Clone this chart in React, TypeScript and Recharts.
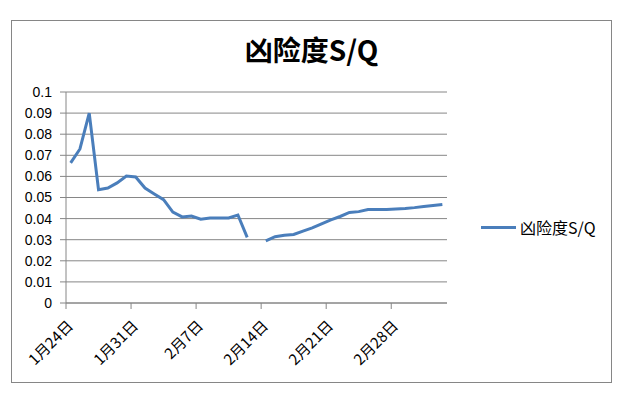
import React from 'react'
import { LineChart, Line, XAxis, YAxis, CartesianGrid } from 'recharts'

// one label per day, 1/24 .. 3/4 (2020, leap year)
const dayLabels = [
  '1月24日', '1月25日', '1月26日', '1月27日', '1月28日', '1月29日', '1月30日', '1月31日',
  '2月1日', '2月2日', '2月3日', '2月4日', '2月5日', '2月6日', '2月7日', '2月8日',
  '2月9日', '2月10日', '2月11日', '2月12日', '2月13日', '2月14日', '2月15日', '2月16日',
  '2月17日', '2月18日', '2月19日', '2月20日', '2月21日', '2月22日', '2月23日', '2月24日',
  '2月25日', '2月26日', '2月27日', '2月28日', '2月29日', '3月1日', '3月2日', '3月3日', '3月4日'
]

const sqValues: (number | null)[] = [
  0.0664, 0.073, 0.09, 0.0537, 0.0545, 0.0569, 0.0602, 0.0597,
  0.0545, 0.0517, 0.049, 0.0431, 0.0408, 0.0412, 0.0397, 0.0403,
  0.0403, 0.0403, 0.0417, 0.0311, null, 0.0294, 0.0314, 0.0321,
  0.0325, 0.0341, 0.0356, 0.0375, 0.0394, 0.041, 0.0429, 0.0433,
  0.0443, 0.0443, 0.0443, 0.0446, 0.0448, 0.0452, 0.0457, 0.0462, 0.0467
]

const yTicks = [0, 0.01, 0.02, 0.03, 0.04, 0.05, 0.06, 0.07, 0.08, 0.09, 0.1]
const xTicks = [0, 7, 14, 21, 28, 35]

const seriesName = '凶险度S/Q'
const lineColor = '#4A7EBB'
const axisColor = '#868686'
const numFont = "'Liberation Sans', 'Noto Sans CJK SC', sans-serif"
const cjkFont = "'Noto Sans CJK SC', 'Liberation Sans', sans-serif"

// x is the day slot, points sit in the middle of their slot like Excel's date axis
const data = sqValues.map((v, i) => ({ x: i + 0.5, label: dayLabels[i], sq: v }))

function DateTick(props: any) {
  const { x, y, payload } = props
  const text = dayLabels[payload.value] ?? ''
  const tx = x + 8
  const ty = y + 16
  return (
    <text
      x={tx}
      y={ty}
      textAnchor="end"
      fontSize={15}
      fontFamily={cjkFont}
      fill="#000"
      transform={`rotate(-45, ${tx}, ${ty})`}
    >
      {text}
    </text>
  )
}

export default function App() {
  return (
    <div style={{ position: 'absolute', left: 0, top: 0, width: 638, height: 400, background: '#fff' }}>
      <div
        style={{
          position: 'absolute',
          left: 11,
          top: 20,
          width: 601,
          height: 363,
          boxSizing: 'border-box',
          border: `1px solid ${axisColor}`
        }}
      />
      <div
        style={{
          position: 'absolute',
          left: 11,
          width: 601,
          top: 31,
          textAlign: 'center',
          fontFamily: cjkFont,
          fontWeight: 'bold',
          fontSize: 28,
          lineHeight: '36px',
          color: '#000'
        }}
      >
        {seriesName}
      </div>
      <div
        style={{
          position: 'absolute',
          left: 481,
          top: 216,
          display: 'flex',
          alignItems: 'center',
          fontFamily: cjkFont,
          fontSize: 16,
          lineHeight: '22px',
          color: '#000'
        }}
      >
        <span style={{ display: 'inline-block', width: 35, height: 3, background: lineColor, marginRight: 4 }} />
        <span>{seriesName}</span>
      </div>
      <LineChart
        width={638}
        height={400}
        data={data}
        margin={{ top: 92, right: 191, left: 0, bottom: 0 }}
        style={{ position: 'absolute', left: 0, top: 0 }}
      >
        <CartesianGrid vertical={false} stroke={axisColor} strokeWidth={1} />
        <XAxis
          type="number"
          dataKey="x"
          domain={[0, 41]}
          ticks={xTicks}
          interval={0}
          height={97}
          stroke={axisColor}
          tickSize={6}
          tick={<DateTick />}
        />
        <YAxis
          type="number"
          domain={[0, 0.1]}
          ticks={yTicks}
          interval={0}
          width={66}
          stroke={axisColor}
          tickSize={6}
          tickMargin={8}
          tick={{ fontSize: 14, fontFamily: numFont, fill: '#000' }}
          tickFormatter={(v: number) => String(v)}
        />
        <Line
          type="linear"
          dataKey="sq"
          name={seriesName}
          stroke={lineColor}
          strokeWidth={3}
          dot={false}
          activeDot={false}
          connectNulls={false}
          isAnimationActive={false}
        />
      </LineChart>
    </div>
  )
}
